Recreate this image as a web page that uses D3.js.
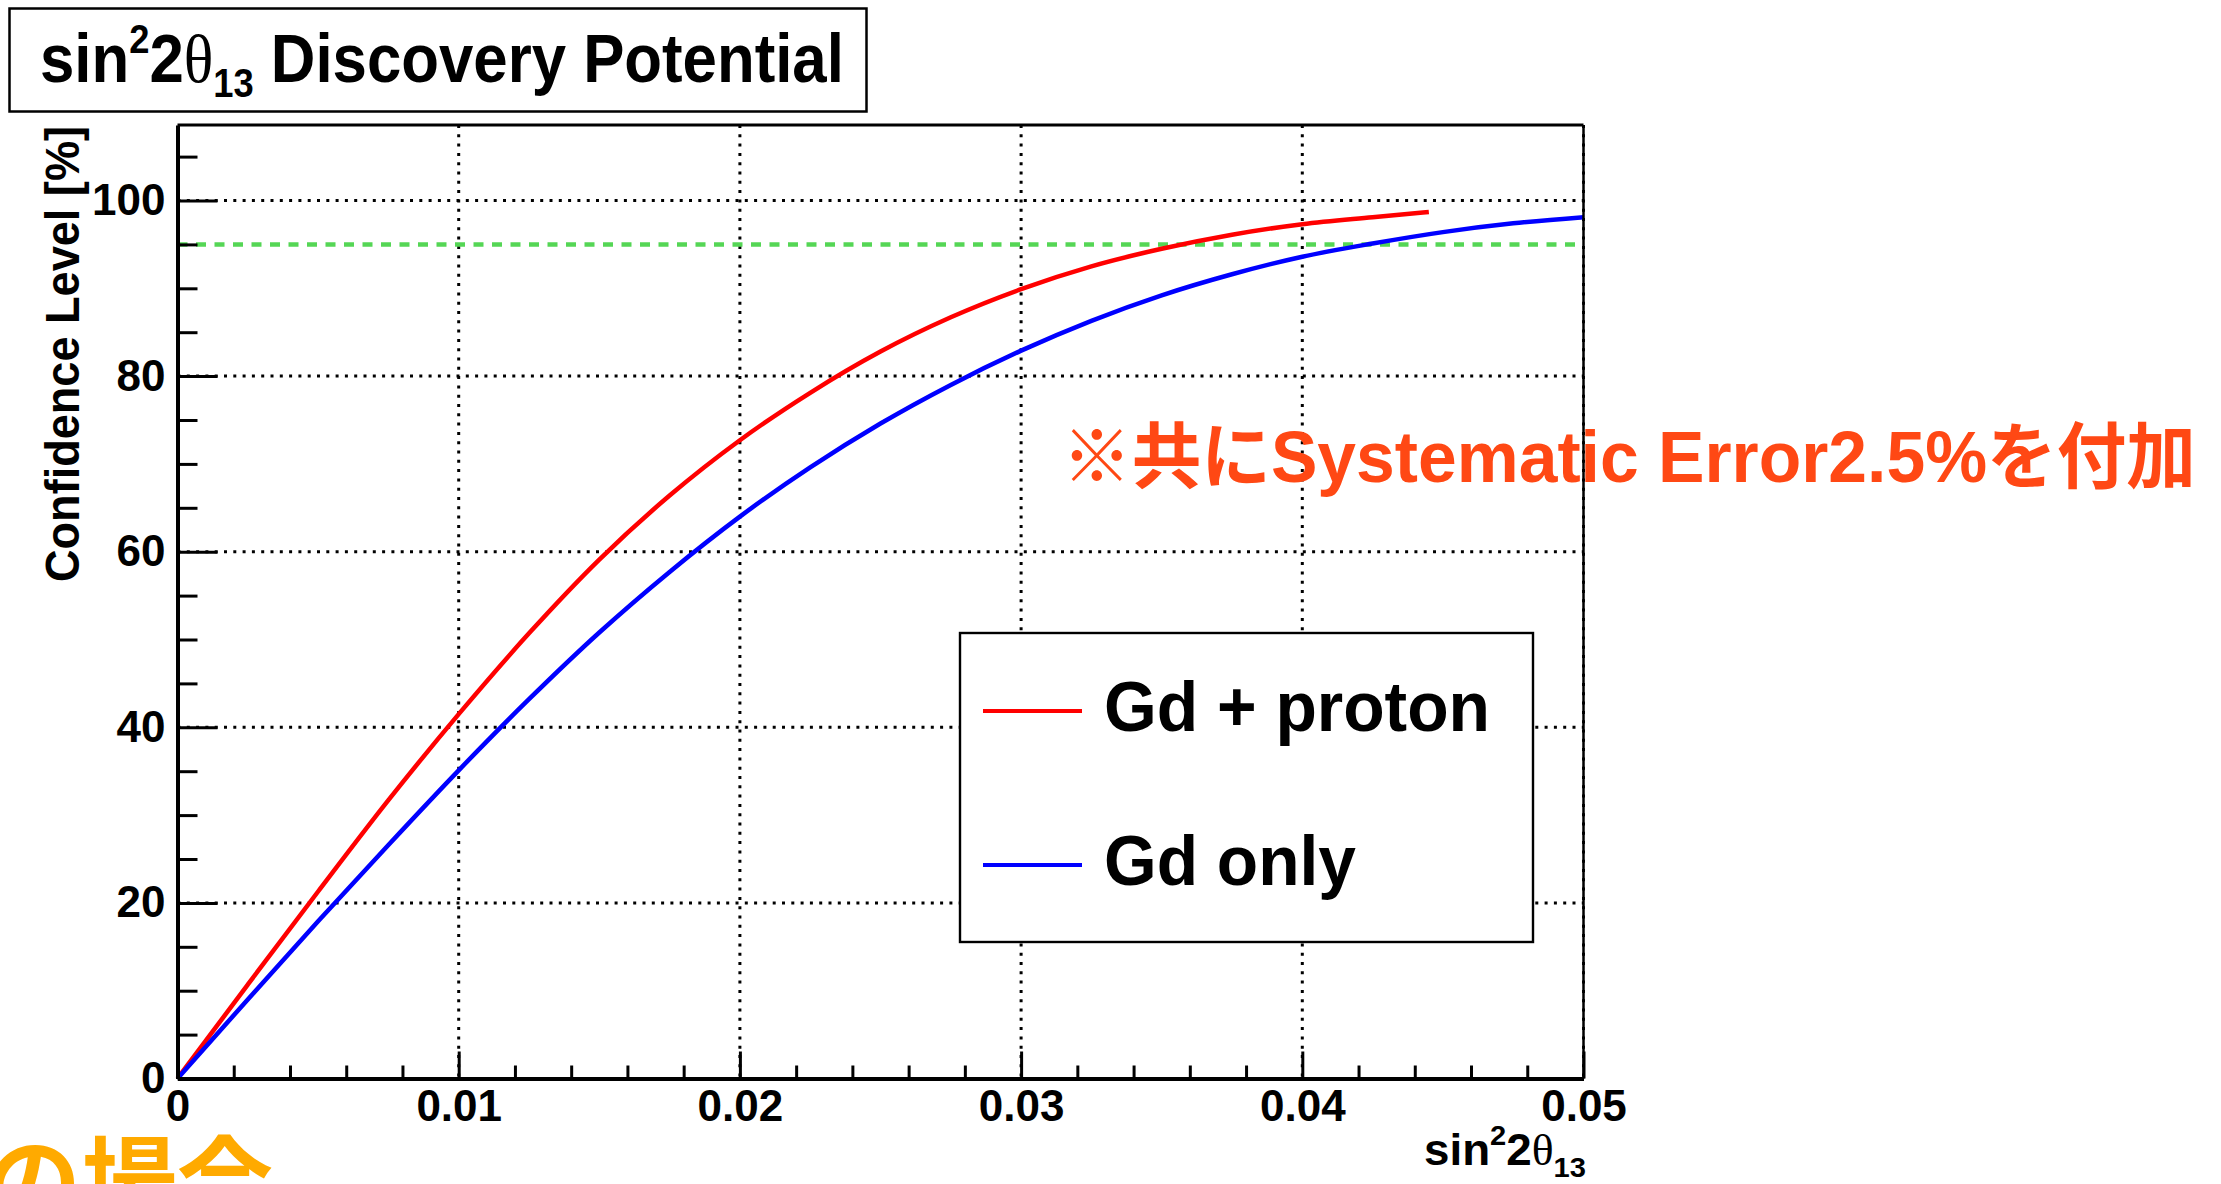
<!DOCTYPE html>
<html lang="ja">

<head>
    <meta charset="UTF-8">
    <script src="https://d3js.org/d3.v7.min.js"></script>
    <style>
        body {
            margin: 0;
            background: #fff;
        }

        svg text {
            font-family: 'Liberation Sans', Arial, Helvetica, sans-serif;
            font-weight: bold;
        }

        svg text.jp {
            font-family: 'Noto Sans CJK JP', sans-serif;
            font-weight: 700;
        }

        .grid line {
            stroke: #000;
            stroke-width: 3;
            stroke-dasharray: 3 6.3;
        }
    </style>
    <title>sin22θ13 Discovery Potential</title>
</head>

<body>
    <svg width="2221" height="1184"></svg>
    <script>
        // Gd + proton curve (x = sin^2 2theta13, y = confidence level %)
        const protonX = [0, 0.0025, 0.005, 0.0075, 0.01, 0.0125, 0.015, 0.0175, 0.02, 0.0225,
            0.025, 0.0275, 0.03, 0.0325, 0.035, 0.0375, 0.04, 0.0425, 0.0445];
        const protonCL = [0, 10.7, 21.3, 31.7, 41.5, 50.7, 59.1, 66.4, 72.7, 78.1,
            82.8, 86.7, 89.9, 92.5, 94.5, 96.1, 97.3, 98.1, 98.7];

        // Gd only curve
        const gdOnlyX = [0, 0.0025, 0.005, 0.0075, 0.01, 0.0125, 0.015, 0.0175, 0.02, 0.0225,
            0.025, 0.0275, 0.03, 0.0325, 0.035, 0.0375, 0.04, 0.0425, 0.045, 0.0475, 0.05];
        const gdOnlyCL = [0, 9.0, 17.9, 26.6, 35.1, 43.2, 50.8, 57.7, 64.0, 69.6,
            74.6, 79.0, 82.9, 86.3, 89.2, 91.6, 93.6, 95.1, 96.4, 97.4, 98.1];

        // 95% reference line
        const clLevel = 95;

        // axis ticks and labels
        const xMajorTicks = [0, 0.01, 0.02, 0.03, 0.04, 0.05];
        const xTickLabels = ['0', '0.01', '0.02', '0.03', '0.04', '0.05'];
        const yMajorTicks = [0, 20, 40, 60, 80, 100];
        const yTickLabels = ['0', '20', '40', '60', '80', '100'];

        const legendLabels = ['Gd + proton', 'Gd only'];
        const seriesColors = ['#ff0000', '#0000ff'];

        const svg = d3.select('svg');
        const width = +svg.attr('width'), height = +svg.attr('height');
        const margin = { top: 125, right: 637.5, bottom: 105.5, left: 177.5 };
        const innerWidth = width - margin.left - margin.right;
        const innerHeight = height - margin.top - margin.bottom;

        const xScale = d3.scaleLinear().domain([0, 0.05]).range([0, innerWidth]);
        const yScale = d3.scaleLinear().domain([0, 108.6]).range([innerHeight, 0]);

        const g = svg.append('g')
            .attr('transform', `translate(${margin.left}, ${margin.top})`);

        // dotted grid at the major ticks
        const grid = g.append('g').attr('class', 'grid');
        grid.selectAll('line.gx')
            .data(xMajorTicks.slice(1))
            .join('line')
            .attr('class', 'gx')
            .attr('x1', d => xScale(d)).attr('x2', d => xScale(d))
            .attr('y1', 0).attr('y2', innerHeight);
        grid.selectAll('line.gy')
            .data(yMajorTicks.slice(1))
            .join('line')
            .attr('class', 'gy')
            .attr('y1', d => yScale(d)).attr('y2', d => yScale(d))
            .attr('x1', 0).attr('x2', innerWidth);

        // green dashed 95% line
        g.append('line')
            .attr('x1', 0).attr('x2', innerWidth)
            .attr('y1', yScale(clLevel)).attr('y2', yScale(clLevel))
            .attr('stroke', '#55d655')
            .attr('stroke-width', 4.5)
            .attr('stroke-dasharray', '10 8.5');

        // the two curves
        const line = d3.line()
            .x(d => xScale(d[0]))
            .y(d => yScale(d[1]))
            .curve(d3.curveMonotoneX);
        const series = [
            d3.zip(protonX, protonCL),
            d3.zip(gdOnlyX, gdOnlyCL)
        ];
        g.selectAll('path.curve')
            .data(series)
            .join('path')
            .attr('class', 'curve')
            .attr('d', line)
            .attr('fill', 'none')
            .attr('stroke', (d, i) => seriesColors[i])
            .attr('stroke-width', 4.5);

        // top and right frame
        g.append('line').attr('x1', 0).attr('x2', innerWidth).attr('y1', 0).attr('y2', 0)
            .attr('stroke', '#000').attr('stroke-width', 3);
        g.append('line').attr('x1', innerWidth).attr('x2', innerWidth).attr('y1', 0).attr('y2', innerHeight)
            .attr('stroke', '#000').attr('stroke-width', 2.5);

        // x axis: minor ticks then major ticks with labels
        const xMinor = d3.range(0.002, 0.05, 0.002).filter(d => Math.abs(d / 0.01 - Math.round(d / 0.01)) > 1e-6);
        g.append('g')
            .attr('transform', `translate(0, ${innerHeight})`)
            .call(d3.axisBottom(xScale).tickValues(xMinor).tickSize(-13).tickFormat(''))
            .call(a => a.select('.domain').remove())
            .call(a => a.selectAll('line').attr('stroke-width', 3));
        g.append('g')
            .attr('transform', `translate(0, ${innerHeight})`)
            .call(d3.axisBottom(xScale)
                .tickValues(xMajorTicks)
                .tickFormat((d, i) => xTickLabels[i])
                .tickSizeInner(-27)
                .tickSizeOuter(0)
                .tickPadding(11))
            .attr('font-size', 44)
            .call(a => a.select('.domain').attr('stroke-width', 4))
            .call(a => a.selectAll('line').attr('stroke-width', 3))
            .call(a => a.selectAll('text').attr('fill', '#000'));

        // y axis
        const yMinor = d3.range(5, 108, 5).filter(d => d % 20 !== 0);
        g.append('g')
            .call(d3.axisLeft(yScale).tickValues(yMinor).tickSize(-20).tickFormat(''))
            .call(a => a.select('.domain').remove())
            .call(a => a.selectAll('line').attr('stroke-width', 3));
        g.append('g')
            .call(d3.axisLeft(yScale)
                .tickValues(yMajorTicks)
                .tickFormat((d, i) => yTickLabels[i])
                .tickSizeInner(-40)
                .tickSizeOuter(0)
                .tickPadding(12))
            .attr('font-size', 44)
            .call(a => a.select('.domain').attr('stroke-width', 4))
            .call(a => a.selectAll('line').attr('stroke-width', 3))
            .call(a => a.selectAll('text').attr('fill', '#000'));

        // y axis title, right aligned at the top of the axis
        svg.append('text')
            .attr('transform', `translate(79, ${margin.top + 1}) rotate(-90)`)
            .attr('text-anchor', 'end')
            .attr('font-size', 48)
            .attr('textLength', 456)
            .attr('lengthAdjust', 'spacingAndGlyphs')
            .text('Confidence Level [%]');

        // squeeze a text horizontally so that it spans the given width
        function squeeze(sel, x0, w) {
            const s = w / sel.node().getBBox().width;
            sel.attr('transform', `translate(${x0}, 0) scale(${s}, 1) translate(${-x0}, 0)`);
        }

        // x axis title sin^2 2theta_13
        const xTitle = svg.append('text')
            .attr('x', 1586).attr('y', 1165)
            .attr('text-anchor', 'end')
            .attr('font-size', 44);
        xTitle.append('tspan').text('sin');
        xTitle.append('tspan').attr('font-size', 28).attr('dy', -20).text('2');
        xTitle.append('tspan').attr('dy', 20).text('2');
        xTitle.append('tspan').attr('font-family', 'Liberation Serif').attr('font-weight', 'normal').text('θ');
        xTitle.append('tspan').attr('font-size', 28).attr('dy', 12).text('13');
        squeeze(xTitle, 1586, 162);

        // title box
        svg.append('rect')
            .attr('x', 9.5).attr('y', 8.5).attr('width', 857).attr('height', 103)
            .attr('fill', '#fff').attr('stroke', '#000').attr('stroke-width', 2.5);
        const title = svg.append('text')
            .attr('x', 40).attr('y', 82)
            .attr('font-size', 68);
        title.append('tspan').text('sin');
        title.append('tspan').attr('font-size', 40).attr('dy', -29).text('2');
        title.append('tspan').attr('dy', 29).text('2');
        title.append('tspan').attr('font-family', 'Liberation Serif').attr('font-weight', 'normal').text('θ');
        title.append('tspan').attr('font-size', 40).attr('dy', 15).text('13');
        title.append('tspan').attr('dy', -15).text(' Discovery Potential');
        squeeze(title, 40, 804);

        // legend
        const legend = svg.append('g');
        legend.append('rect')
            .attr('x', 960).attr('y', 633).attr('width', 573).attr('height', 309)
            .attr('fill', '#fff').attr('stroke', '#000').attr('stroke-width', 2.4);
        const legendY = [711, 865];
        const legendWidths = [386, 252];
        legendLabels.forEach((label, i) => {
            legend.append('line')
                .attr('x1', 983).attr('x2', 1082)
                .attr('y1', legendY[i]).attr('y2', legendY[i])
                .attr('stroke', seriesColors[i]).attr('stroke-width', 4);
            legend.append('text')
                .attr('x', 1104).attr('y', legendY[i] + 20)
                .attr('font-size', 70)
                .attr('textLength', legendWidths[i])
                .attr('lengthAdjust', 'spacingAndGlyphs')
                .text(label);
        });

        // slide annotations
        const note = svg.append('text')
            .attr('class', 'jp')
            .attr('x', 1062).attr('y', 482)
            .attr('font-size', 72)
            .attr('fill', '#ff4814')
            .attr('textLength', 1134)
            .attr('lengthAdjust', 'spacingAndGlyphs');
        note.append('tspan').text('※共に');
        note.append('tspan')
            .style('font-family', "'Liberation Sans', Arial, sans-serif")
            .text('Systematic Error2.5%');
        note.append('tspan').text('を付加');

        svg.append('text')
            .attr('class', 'jp')
            .attr('x', -15).attr('y', 1216)
            .attr('font-size', 96)
            .attr('fill', '#ffaa00')
            .text('の場合');
    </script>
</body>

</html>
